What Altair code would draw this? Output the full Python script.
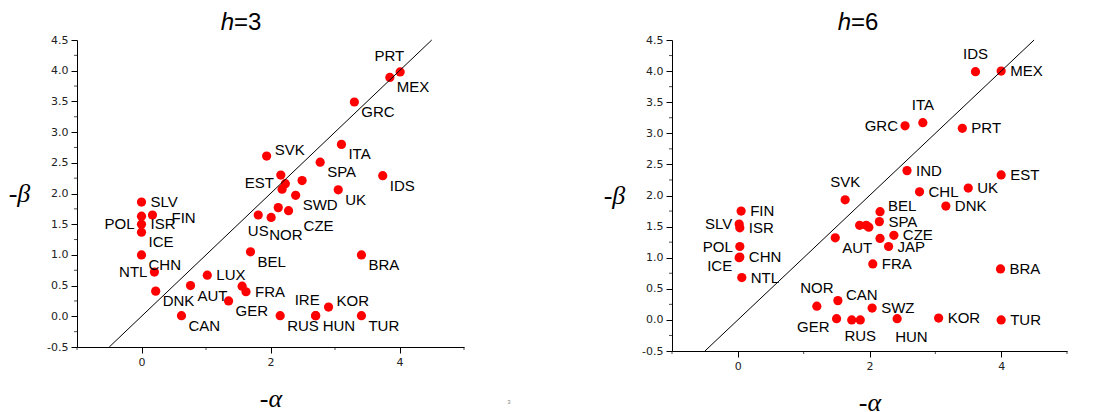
import altair as alt
import pandas as pd

# ---------------- data: h = 3 ----------------
countries_h3 = ["SLV", "FIN", "POL", "ISR", "ICE", "CHN", "NTL", "DNK", "CAN", "AUT",
                "LUX", "GER", "FRA", "", "BEL", "US", "NOR", "CZE", "SWD", "",
                "SVK", "EST", "", "", "", "SPA", "ITA", "UK", "IDS", "GRC",
                "MEX", "PRT", "BRA", "KOR", "HUN", "IRE", "TUR", "RUS"]
alpha_h3 = [0.00, 0.17, 0.00, 0.00, 0.00, 0.00, 0.20, 0.22, 0.62, 0.76,
            1.02, 1.35, 1.62, 1.56, 1.69, 1.81, 2.01, 2.28, 2.39, 2.12,
            1.94, 2.16, 2.23, 2.18, 2.49, 2.77, 3.10, 3.05, 3.74, 3.30,
            3.85, 4.01, 3.41, 2.90, 2.70, 2.70, 3.41, 2.15]
beta_h3 = [1.86, 1.65, 1.63, 1.50, 1.37, 1.00, 0.72, 0.41, 0.01, 0.50,
           0.67, 0.25, 0.40, 0.49, 1.05, 1.65, 1.61, 1.72, 1.97, 1.77,
           2.61, 2.30, 2.16, 2.07, 2.21, 2.51, 2.80, 2.06, 2.29, 3.49,
           3.89, 3.98, 1.00, 0.15, 0.01, 0.01, 0.01, 0.01]
place_h3 = ["r", "rr", "bl", "r", "br", "br", "l", "br", "br", "br",
            "r", "br", "r", "", "br", "b", "brb", "br2", "br", "",
            "ar", "bl", "", "", "", "br", "br", "br", "br", "br",
            "br", "al", "br", "ar", "br", "al", "br", "br"]

# ---------------- data: h = 6 ----------------
countries_h6 = ["FIN", "SLV", "ISR", "POL", "CHN", "ICE", "NTL", "SVK", "AUT", "",
                "", "", "BEL", "SPA", "", "CZE", "JAP", "FRA", "NOR", "CAN",
                "GER", "", "RUS", "SWZ", "HUN", "KOR", "TUR", "BRA", "IND", "CHL",
                "DNK", "UK", "EST", "GRC", "ITA", "PRT", "IDS", "MEX"]
alpha_h6 = [0.05, 0.02, 0.03, 0.03, 0.03, 0.02, 0.06, 1.63, 1.48, 1.85,
            1.95, 1.99, 2.16, 2.15, 2.16, 2.37, 2.29, 2.05, 1.20, 1.52,
            1.50, 1.73, 1.86, 2.04, 2.42, 3.05, 4.00, 3.99, 2.57, 2.76,
            3.16, 3.50, 4.00, 2.54, 2.81, 3.41, 3.61, 4.00]
beta_h6 = [1.75, 1.54, 1.48, 1.18, 1.01, 1.00, 0.68, 1.93, 1.32, 1.52,
           1.52, 1.49, 1.74, 1.58, 1.31, 1.36, 1.18, 0.90, 0.22, 0.31,
           0.02, 0.00, 0.00, 0.19, 0.02, 0.03, 0.00, 0.82, 2.40, 2.06,
           1.83, 2.12, 2.33, 3.12, 3.17, 3.08, 3.99, 4.00]
place_h6 = ["r", "l", "r", "l", "r", "bl", "r", "a", "br", "",
            "", "", "ar", "r", "", "r", "r", "r", "a", "ar",
            "bl", "", "b", "r", "brb", "r", "r", "r", "r", "r",
            "r", "r", "r", "l", "a", "r", "a", "r"]

diag = [-0.5, 4.5]
x_major = [0, 2, 4]
x_minor = [-1, 1, 3, 5]
y_major = [-0.5, 0.0, 0.5, 1.0, 1.5, 2.0, 2.5, 3.0, 3.5, 4.0, 4.5]
y_minor = [-0.25, 0.25, 0.75, 1.25, 1.75, 2.25, 2.75, 3.25, 3.75, 4.25]

# label placement styles (offsets in pixels)
PLACE = {
    "r": dict(dx=9, dy=0, align="left"),
    "rr": dict(dx=19, dy=3, align="left"),
    "br": dict(dx=7, dy=10, align="left"),
    "br2": dict(dx=15, dy=15, align="left"),
    "brb": dict(dx=-2, dy=18, align="left"),
    "bl": dict(dx=-7, dy=8, align="right"),
    "l": dict(dx=-7, dy=0, align="right"),
    "ar": dict(dx=8, dy=-6, align="left"),
    "al": dict(dx=4, dy=-16, align="right"),
    "a": dict(dx=0, dy=-18, align="center"),
    "b": dict(dx=0, dy=16, align="center"),
}

LABEL_FONT = "Liberation Sans"
TICK_FONT = "DejaVu Sans"
SERIF = "Liberation Serif"


def panel(countries, alpha, beta, place, hval, w, h, title_x, extra=None):
    df = pd.DataFrame({"a": alpha, "b": beta, "c": countries, "p": place})
    xs = alt.Scale(domain=[-1, 5], nice=False, zero=False)
    ys = alt.Scale(domain=[-0.5, 4.5], nice=False, zero=False)
    xaxis = alt.Axis(
        values=x_major, grid=False, tickSize=6, format="d",
        labelFont=TICK_FONT, labelFontSize=11, labelColor="#222", labelPadding=3,
        domainColor="black", tickColor="black",
        title="-α", titleFont=SERIF, titleFontStyle="italic", titleFontWeight="normal",
        titleFontSize=26, titleColor="black", titleX=w / 2, titleY=51,
        titleBaseline="middle", titleAlign="center",
    )
    yaxis = alt.Axis(
        values=y_major, grid=False, tickSize=6,
        labelExpr="(datum.value < 0 ? '-' : '') + format(abs(datum.value), '.1f')",
        labelFont=TICK_FONT, labelFontSize=11, labelColor="#222", labelPadding=3,
        domainColor="black", tickColor="black",
        title="-β", titleFont=SERIF, titleFontStyle="italic", titleFontWeight="normal",
        titleFontSize=26, titleColor="black", titleAngle=0, titleX=-58, titleY=h / 2,
        titleBaseline="middle", titleAlign="center",
    )
    base = alt.Chart(df)
    pts = base.mark_circle(size=85, color="#ff0000", opacity=1).encode(
        x=alt.X("a:Q", scale=xs, axis=xaxis),
        y=alt.Y("b:Q", scale=ys, axis=yaxis),
    )
    line = alt.Chart(pd.DataFrame({"a": diag, "b": diag})).mark_line(
        color="black", strokeWidth=1
    ).encode(
        x=alt.X("a:Q", scale=xs, axis=xaxis),
        y=alt.Y("b:Q", scale=ys, axis=yaxis),
    )
    # minor ticks
    xmin = alt.Chart(pd.DataFrame({"a": x_minor})).mark_tick(
        orient="vertical", size=3, thickness=1, color="black"
    ).encode(x=alt.X("a:Q", scale=xs, axis=xaxis), y=alt.value(h + 1.5))
    ymin = alt.Chart(pd.DataFrame({"b": y_minor})).mark_tick(
        orient="horizontal", size=3, thickness=1, color="black"
    ).encode(y=alt.Y("b:Q", scale=ys, axis=yaxis), x=alt.value(-1.5))
    layers = [pts, line, xmin, ymin]
    for code, sty in PLACE.items():
        layers.append(
            base.transform_filter(alt.datum.p == code).mark_text(
                baseline="middle", fontSize=15, font=LABEL_FONT, color="black", **sty
            ).encode(
                x=alt.X("a:Q", scale=xs, axis=xaxis),
                y=alt.Y("b:Q", scale=ys, axis=yaxis),
                text="c:N",
            )
        )
    # panel title: italic h + "=n"
    layers.append(
        alt.Chart(pd.DataFrame({"t": ["h"]})).mark_text(
            font=LABEL_FONT, fontSize=24, fontStyle="italic", align="right",
            baseline="alphabetic", color="black"
        ).encode(x=alt.value(title_x), y=alt.value(-10), text="t:N")
    )
    layers.append(
        alt.Chart(pd.DataFrame({"t": [f"={hval}"]})).mark_text(
            font=LABEL_FONT, fontSize=24, align="left", baseline="alphabetic", color="black"
        ).encode(x=alt.value(title_x), y=alt.value(-10), text="t:N")
    )
    if extra is not None:
        layers.append(extra)
    return alt.layer(*layers).properties(width=w, height=h)


page_mark = alt.Chart(pd.DataFrame({"t": ["3"]})).mark_text(
    font=LABEL_FONT, fontSize=6, color="#888", align="center", baseline="middle"
).encode(x=alt.value(432), y=alt.value(362), text="t:N")

left = panel(countries_h3, alpha_h3, beta_h3, place_h3, 3, 387, 307, 157, extra=page_mark)
right = panel(countries_h6, alpha_h6, beta_h6, place_h6, 6, 395, 311, 179)

chart = alt.hconcat(left, right, spacing=92).properties(
    padding={"left": 0, "top": 3, "right": 0, "bottom": 0}
).configure_view(stroke=None)

chart.save("out.html", embed_options={"renderer": "svg", "actions": False})
